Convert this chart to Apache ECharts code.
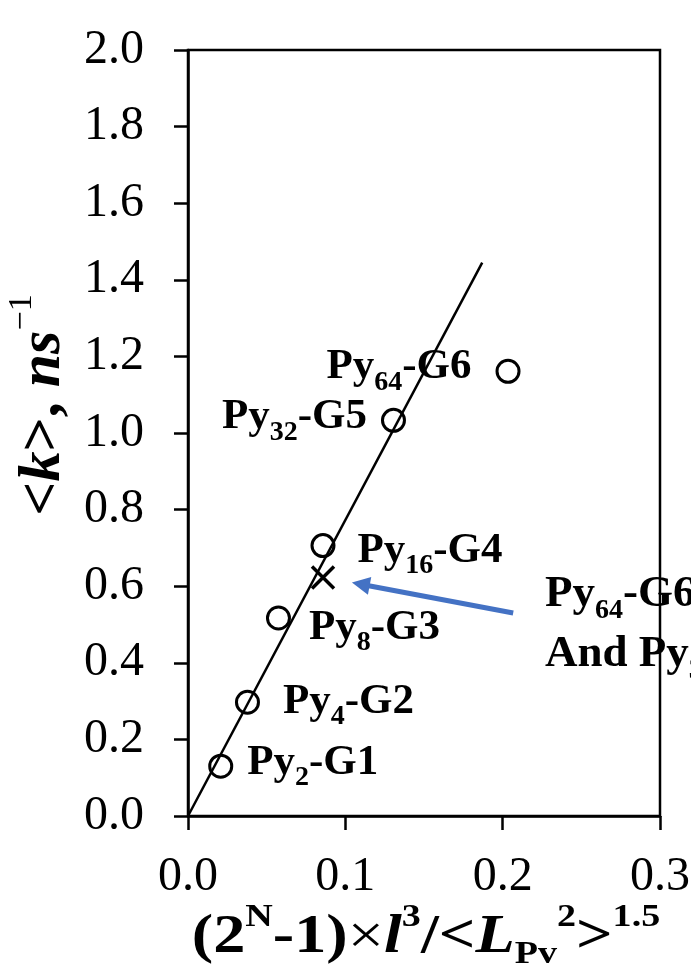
<!DOCTYPE html>
<html>
<head>
<meta charset="utf-8">
<script src="https://cdn.jsdelivr.net/npm/echarts@6/dist/echarts.min.js"></script>
<style>
  html, body { margin: 0; padding: 0; background: #fff; }
  #chart { width: 691px; height: 964px; }
</style>
</head>
<body>
<div id="chart"></div>
<script>
// Dendrimer generations: pyrene count (subscript) and generation label
const pyCount = ['2', '4', '8', '16', '32', '64'];
const generation = ['G1', 'G2', 'G3', 'G4', 'G5', 'G6'];
// x: (2^N-1) l^3 / <L_Py^2>^1.5,  y: <k> in ns^-1
const xValues = [0.0208, 0.0378, 0.0575, 0.0858, 0.1306, 0.2034];
const kValues = [0.130, 0.297, 0.517, 0.706, 1.033, 1.161];
// combined point marked with a cross
const crossX = [0.0858];
const crossK = [0.623];
// linear fit through the origin
const fitX = [0, 0.187];
const fitK = [0, 1.445];
// arrow from the note to the cross marker
const arrowFrom = [0.2067, 0.530];
const arrowTo = [0.1098, 0.605];
// axis ticks
const xTicks = [0.0, 0.1, 0.2, 0.3];
const yTicks = [0.0, 0.2, 0.4, 0.6, 0.8, 1.0, 1.2, 1.4, 1.6, 1.8, 2.0];

const SERIF = "'Liberation Serif', 'Times New Roman', serif";

// label side / spacing per point (right of the marker for G1-G4, left for G5-G6)
const labelPlacement = [
  { position: 'right', distance: 14, dy: -3 },
  { position: 'right', distance: 23, dy: 0 },
  { position: 'right', distance: 18, dy: 10 },
  { position: 'right', distance: 22, dy: 5 },
  { position: 'left', distance: 14, dy: -3 },
  { position: 'left', distance: 24, dy: -4 }
];

// subscripts are pushed down with top padding (token stays centred in its own box)
const labelRich = {
  b: { fontFamily: SERIF, fontWeight: 'bold', fontSize: 43, color: '#000' },
  s: { fontFamily: SERIF, fontWeight: 'bold', fontSize: 28, padding: [30, 0, 0, 0], color: '#000' }
};

const pointData = xValues.map((x, i) => ({
  value: [x, kValues[i]],
  label: {
    position: labelPlacement[i].position,
    distance: labelPlacement[i].distance,
    offset: [0, labelPlacement[i].dy],
    formatter: '{b|Py}{s|' + pyCount[i] + '}{b|-' + generation[i] + '}'
  }
}));

const chart = echarts.init(document.getElementById('chart'), null, { renderer: 'canvas' });

const axisLineStyle = { color: '#000', width: 2.5 };

const noteRich = {
  b: { fontFamily: SERIF, fontWeight: 'bold', fontSize: 45, fill: '#000' },
  s: { fontFamily: SERIF, fontWeight: 'bold', fontSize: 28, padding: [32, 0, 0, 0], fill: '#000' }
};

const xTitleRich = {
  p: { fontFamily: SERIF, fontWeight: 'bold', fontSize: 54, fill: '#000' },
  x: { fontFamily: SERIF, fontWeight: 'normal', fontSize: 54, fill: '#000' },
  i: { fontFamily: SERIF, fontWeight: 'bold', fontStyle: 'italic', fontSize: 54, fill: '#000' },
  sup: { fontFamily: SERIF, fontWeight: 'bold', fontSize: 32, padding: [0, 0, 41, 0], fill: '#000' },
  sub: { fontFamily: SERIF, fontWeight: 'bold', fontSize: 32, padding: [33, 0, 0, 0], fill: '#000' }
};

chart.setOption({
  animation: false,
  backgroundColor: '#fff',
  grid: {
    left: 188, top: 50, width: 472, height: 766,
    outerBoundsMode: 'none',
    containLabel: false,
    show: true, borderColor: '#000', borderWidth: 2.5,
    backgroundColor: 'rgba(0,0,0,0)'
  },
  xAxis: {
    type: 'value', min: xTicks[0], max: xTicks[xTicks.length - 1], interval: 0.1,
    axisLine: { show: true, onZero: false, lineStyle: axisLineStyle },
    axisTick: { show: true, inside: false, length: 14, lineStyle: axisLineStyle },
    splitLine: { show: false },
    axisLabel: {
      fontFamily: SERIF, fontSize: 48, color: '#000', margin: 37,
      formatter: v => v.toFixed(1)
    }
  },
  yAxis: {
    type: 'value', min: yTicks[0], max: yTicks[yTicks.length - 1], interval: 0.2,
    axisLine: { show: true, onZero: false, lineStyle: axisLineStyle },
    axisTick: { show: true, inside: false, length: 14, lineStyle: axisLineStyle },
    splitLine: { show: false },
    axisLabel: {
      fontFamily: SERIF, fontSize: 48, color: '#000', margin: 44,
      formatter: v => v.toFixed(1)
    },
    name: '{p|<}{i|k}{p|>, }{i|ns}{sup|−1}',
    nameLocation: 'middle',
    nameRotate: 90,
    nameGap: 107,
    nameTextStyle: {
      padding: [0, 0, 0, 56],
      rich: {
        p: { fontFamily: SERIF, fontWeight: 'bold', fontSize: 60, color: '#000' },
        i: { fontFamily: SERIF, fontWeight: 'bold', fontStyle: 'italic', fontSize: 60, color: '#000' },
        sup: { fontFamily: SERIF, fontWeight: 'normal', fontSize: 34, padding: [0, 0, 42, 0], color: '#000' }
      }
    }
  },
  graphic: [
    {
      // x-axis title, widened to span the plot
      type: 'text', x: 426, y: 902, scaleX: 1.19,
      style: {
        text: '{p|(2}{sup|N}{p|-1)}{x|×}{i|l}{sup|3}{p|/<}{i|L}{sub|Pv}{sup|2}{p|>}{sup|1.5}',
        rich: xTitleRich, align: 'center', verticalAlign: 'top'
      }
    },
    {
      type: 'text', left: 545, top: 572, z: -1,
      style: { text: '{b|Py}{s|64}{b|-G6}', rich: noteRich }
    },
    {
      type: 'text', left: 545, top: 632, z: -1,
      style: { text: '{b|And Py}{s|32}{b|-G5}', rich: noteRich }
    }
  ],
  series: [
    {
      type: 'line',
      data: fitX.map((x, i) => [x, fitK[i]]),
      symbol: 'none',
      lineStyle: { color: '#000', width: 2.5 },
      silent: true,
      z: 1
    },
    {
      type: 'scatter',
      data: pointData,
      symbol: 'circle',
      symbolSize: 22,
      itemStyle: { color: 'rgba(0,0,0,0)', borderColor: '#000', borderWidth: 3, opacity: 1 },
      label: { show: true, color: '#000', opacity: 1, rich: labelRich },
      emphasis: { disabled: true },
      z: 3
    },
    {
      type: 'scatter',
      data: crossX.map((x, i) => [x, crossK[i]]),
      symbol: 'path://M0,0L10,10M10,0L0,10',
      symbolSize: 22,
      itemStyle: { color: 'rgba(0,0,0,0)', borderColor: '#000', borderWidth: 3.5, opacity: 1 },
      emphasis: { disabled: true },
      z: 3
    },
    {
      type: 'lines',
      coordinateSystem: 'cartesian2d',
      data: [{ coords: [arrowFrom, arrowTo] }],
      symbol: ['none', 'triangle'],
      symbolSize: 18,
      lineStyle: { color: '#4472C4', width: 5, opacity: 1 },
      silent: true,
      z: 4
    }
  ]
});
</script>
</body>
</html>
